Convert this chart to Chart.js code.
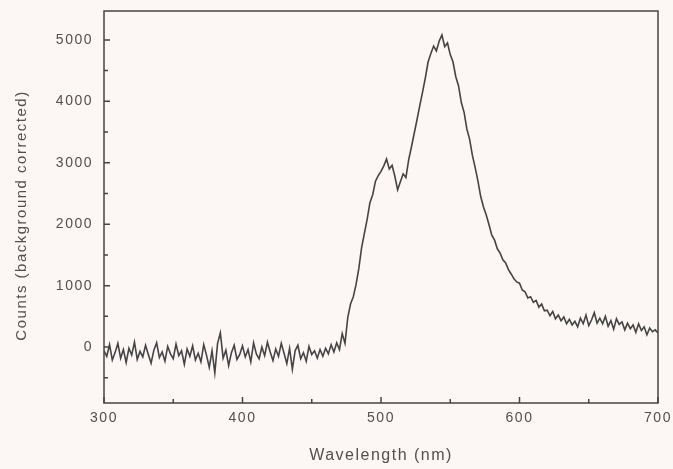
<!DOCTYPE html>
<html lang="en">
<head>
  <meta charset="UTF-8">
  <meta name="viewport" content="width=device-width, initial-scale=1.0">
  <title>Emission Spectrum</title>
  <script src="https://cdn.jsdelivr.net/npm/chart.js"></script>
  <style>
    html, body { margin: 0; padding: 0; background: #fcf6f4; }
    #wrap { width: 673px; height: 469px; }
  </style>
</head>
<body>
  <div id="wrap"><canvas id="spectrumChart"></canvas></div>

  <script>
    // Sampling grid of the spectrum (nm)
    const wavelengthStart = 300;
    const wavelengthStep = 2;

    // Counts (background corrected), one value per 2 nm
    const counts = [
      -60, -150, 40, -210, -90, 60, -180, -40, -250, -20,        // 300-318
      -130, 80, -200, -70, -160, 30, -120, -260, -50, 70,        // 320-338
      -170, -80, -230, 10, -110, -190, 50, -140, -60, -280,      // 340-358
      -30, -150, 20, -210, -100, -240, 40, -130, -330, -60,      // 360-378
      -420, 60, 230, -180, -50, -300, -90, 30, -200, -120,       // 380-398
      20, -160, -40, -240, 70, -110, -190, 0, -140, 80,          // 400-418
      -80, -220, -30, -150, 60, -100, -270, -20, -360, -60,      // 420-438
      30, -190, -90, -230, 10, -120, -60, -180, -40, -150,       // 440-458
      -20, -110, 40, -80, 70, -40, 220, 60, 480, 700,            // 460-478
      820, 1020, 1280, 1620, 1850, 2080, 2350, 2480, 2700, 2790, // 480-498
      2860, 2950, 3060, 2900, 2960, 2780, 2560, 2690, 2820, 2760,// 500-518
      3050, 3260, 3480, 3700, 3930, 4150, 4380, 4640, 4780, 4900,// 520-538
      4820, 4980, 5080, 4890, 4950, 4760, 4640, 4400, 4250, 3980,// 540-558
      3820, 3550, 3380, 3120, 2920, 2700, 2450, 2280, 2150, 1990,// 560-578
      1820, 1740, 1600, 1530, 1420, 1370, 1260, 1190, 1110, 1060,// 580-598
      1040, 930, 900, 800, 820, 730, 760, 650, 700, 590,         // 600-618
      600, 510, 580, 460, 520, 430, 490, 380, 450, 360,          // 620-638
      420, 330, 470, 380, 520, 350, 440, 560, 390, 470,          // 640-658
      380, 500, 340, 430, 290, 460, 370, 410, 280, 390,          // 660-678
      300, 360, 240, 380, 270, 330, 200, 310, 250, 280,          // 680-698
      230                                                        // 700
    ];

    const xTicks = [300, 400, 500, 600, 700];
    const xMinorTicks = [350, 450, 550, 650];
    const yTicks = [0, 1000, 2000, 3000, 4000, 5000];
    const yMinorTicks = [-500, 500, 1500, 2500, 3500, 4500];

    const inkColor = '#444444';
    const textColor = '#505050';

    // Frame round the plot and inward tick marks, placed through the chart's scales
    const frameAndTicks = {
      id: 'frameAndTicks',
      beforeDraw(chart) {
        chart.ctx.letterSpacing = '1.5px';
      },
      afterDraw(chart) {
        const { ctx, chartArea: a, scales: { x, y } } = chart;
        ctx.save();
        ctx.strokeStyle = inkColor;
        ctx.lineWidth = 1.5;
        ctx.strokeRect(a.left, a.top, a.right - a.left, a.bottom - a.top);
        ctx.beginPath();
        xTicks.forEach(v => { const p = x.getPixelForValue(v); ctx.moveTo(p, a.bottom); ctx.lineTo(p, a.bottom - 6); });
        xMinorTicks.forEach(v => { const p = x.getPixelForValue(v); ctx.moveTo(p, a.bottom); ctx.lineTo(p, a.bottom - 4); });
        yTicks.forEach(v => { const p = y.getPixelForValue(v); ctx.moveTo(a.left, p); ctx.lineTo(a.left + 6, p); });
        yMinorTicks.forEach(v => { const p = y.getPixelForValue(v); ctx.moveTo(a.left, p); ctx.lineTo(a.left + 4, p); });
        ctx.stroke();
        ctx.restore();
      }
    };

    const points = counts.map((c, i) => ({ x: wavelengthStart + i * wavelengthStep, y: c }));

    new Chart(document.getElementById('spectrumChart'), {
      type: 'line',
      data: {
        datasets: [{
          data: points,
          borderColor: inkColor,
          borderWidth: 1.6,
          pointRadius: 0,
          tension: 0,
          fill: false
        }]
      },
      options: {
        responsive: true,
        maintainAspectRatio: false,
        animation: false,
        layout: { padding: { left: 0, right: 15, top: 11, bottom: 0 } },
        plugins: { legend: { display: false }, tooltip: { enabled: false } },
        scales: {
          x: {
            type: 'linear',
            min: 300,
            max: 700,
            afterFit: s => { s.height = 66; s.paddingLeft = 0; s.paddingRight = 0; },
            afterBuildTicks: s => { s.ticks = xTicks.map(v => ({ value: v })); },
            grid: { display: false, drawTicks: false },
            border: { display: false },
            ticks: {
              padding: 7,
              color: textColor,
              font: { family: 'Liberation Sans', size: 14 },
              callback: v => String(v)
            },
            title: {
              display: true,
              text: 'Wavelength (nm)',
              color: textColor,
              padding: { top: 4, bottom: 4 },
              font: { family: 'Liberation Sans', size: 16 }
            }
          },
          y: {
            min: -910,
            max: 5470,
            afterFit: s => { s.width = 104; s.paddingTop = 0; s.paddingBottom = 0; },
            afterBuildTicks: s => { s.ticks = yTicks.map(v => ({ value: v })); },
            grid: { display: false, drawTicks: false },
            border: { display: false },
            ticks: {
              padding: 11,
              color: textColor,
              font: { family: 'Liberation Sans', size: 14 },
              callback: v => String(v)
            },
            title: {
              display: true,
              text: 'Counts (background corrected)   ',
              color: textColor,
              padding: { top: 13, bottom: 13 },
              font: { family: 'Liberation Sans', size: 15 }
            }
          }
        }
      },
      plugins: [frameAndTicks]
    });
  </script>
</body>
</html>
